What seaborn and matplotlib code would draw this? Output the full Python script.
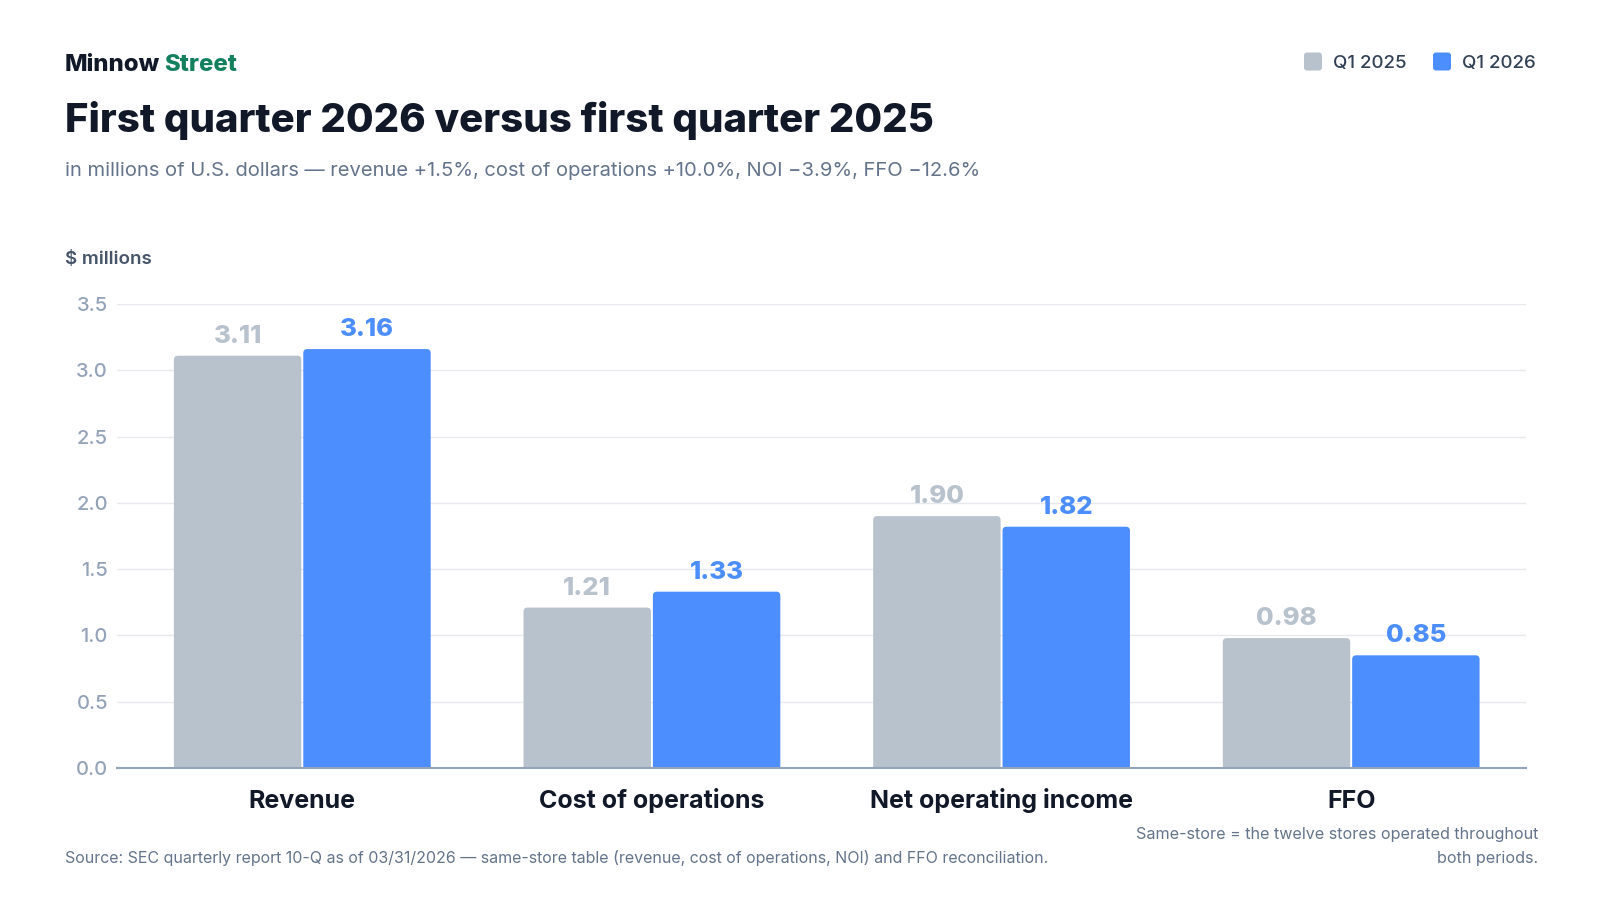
import matplotlib
matplotlib.use("Agg")
import matplotlib.pyplot as plt
import seaborn as sns
import pandas as pd
from matplotlib.patches import FancyBboxPatch

# values, $ millions
metrics = ["Revenue", "Cost of operations", "Net operating income", "FFO"]
q1_2025 = [3.11, 1.21, 1.90, 0.98]
q1_2026 = [3.16, 1.33, 1.82, 0.85]
periods = ["Q1 2025", "Q1 2026"]
y_ticks = [0.0, 0.5, 1.0, 1.5, 2.0, 2.5, 3.0, 3.5]

GREY = "#b8c2cd"
BLUE = "#4d8efe"
INK = "#111827"
GREEN = "#12805c"
MUTED = "#64748b"
TICK = "#94a3b8"

W, H = 1600, 900

def fx(px):
    return px / W

def fy(py):
    return 1 - py / H


sns.set_theme(style="white")
plt.rcParams["font.family"] = ["Inter", "DejaVu Sans"]

df = pd.DataFrame({
    "metric": metrics * 2,
    "value": q1_2025 + q1_2026,
    "period": [periods[0]] * len(metrics) + [periods[1]] * len(metrics),
})

fig = plt.figure(figsize=(16, 9), dpi=100)
ax_w, ax_h = 1409, 464
ax = fig.add_axes([fx(117), 132 / H, fx(ax_w), ax_h / H])

sns.barplot(data=df, x="metric", y="value", hue="period", hue_order=periods,
            palette=[GREY, BLUE], saturation=1, width=0.74, gap=0.015,
            linewidth=0, legend=False, ax=ax)

xlim = (-0.53, 3.5)
ylim = (0, 3.5)
ax.set_xlim(*xlim)
ax.set_ylim(*ylim)

# round the top corners of each bar (bottom ones fall below the clip line)
px_x = ax_w / (xlim[1] - xlim[0])
px_y = ax_h / (ylim[1] - ylim[0])
r = 4 / px_x
for container in ax.containers:
    for bar in container:
        bar.set_visible(False)
        ry = r * px_x / px_y
        p = FancyBboxPatch((bar.get_x(), -ry), bar.get_width(), bar.get_height() + ry,
                           boxstyle=f"round,pad=0,rounding_size={r}",
                           mutation_aspect=px_x / px_y,
                           facecolor=bar.get_facecolor(), edgecolor="none",
                           zorder=2, clip_on=True)
        ax.add_patch(p)

for container, vals, col in zip(ax.containers, [q1_2025, q1_2026], [GREY, BLUE]):
    for bar, v in zip(container, vals):
        ax.annotate(f"{v:.2f}", (bar.get_x() + bar.get_width() / 2, v),
                    xytext=(0, 14), textcoords="offset points",
                    ha="center", va="center", fontsize=18.5, fontweight=800,
                    color=col)

ax.set_yticks(y_ticks)
ax.set_yticklabels([f"{t:.1f}" for t in y_ticks])
ax.set_xlabel("")
ax.set_ylabel("")
ax.yaxis.grid(True, color="#e6e9ee", linewidth=1)
ax.set_axisbelow(True)
for s in ["left", "top", "right"]:
    ax.spines[s].set_visible(False)
ax.spines["bottom"].set_color(TICK)
ax.spines["bottom"].set_linewidth(1.5)
ax.spines["bottom"].set_zorder(3)
ax.tick_params(axis="y", length=0, pad=6.5, labelsize=14.5, labelcolor=TICK)
ax.tick_params(axis="x", length=0, pad=29, labelsize=18, labelcolor=INK)
for lab in ax.get_yticklabels():
    lab.set_fontweight("medium")
for lab in ax.get_xticklabels():
    lab.set_fontweight("bold")
    lab.set_verticalalignment("baseline")

# header
t1 = fig.text(fx(65), fy(71), "Minnow", fontsize=17.2, fontweight=800,
              color=INK, va="baseline")
fig.canvas.draw()
bb = t1.get_window_extent()
fig.text(fx(bb.x1 + 4), fy(71), "Street", fontsize=17.2, fontweight=800,
         color=GREEN, va="baseline")

fig.text(fx(65), fy(132), "First quarter 2026 versus first quarter 2025",
         fontsize=28.9, fontweight=800, color=INK, va="baseline")
fig.text(fx(65), fy(175.5),
         "in millions of U.S. dollars — revenue +1.5%, cost of operations +10.0%, "
         "NOI −3.9%, FFO −12.6%",
         fontsize=14.5, color=MUTED, va="baseline")
fig.text(fx(65), fy(264), "$ millions", fontsize=13.5, fontweight="semibold",
         color="#475569", va="baseline")

# legend, top right
leg_x = [1304, 1433]
for lx, lab, col in zip(leg_x, periods, [GREY, BLUE]):
    fig.patches.append(FancyBboxPatch((fx(lx), fy(70.5)), fx(18), 18 / H,
                                      boxstyle="round,pad=0,rounding_size=0.0018",
                                      mutation_aspect=W / H,
                                      facecolor=col, edgecolor="none",
                                      transform=fig.transFigure, figure=fig))
    fig.text(fx(lx + 29), fy(61.5), lab, fontsize=13.5, fontweight="medium",
             color="#334155", va="center_baseline")

# footer
fig.text(fx(65), fy(863),
         "Source: SEC quarterly report 10-Q as of 03/31/2026 — same-store table "
         "(revenue, cost of operations, NOI) and FFO reconciliation.",
         fontsize=11.5, color=MUTED, va="baseline")
fig.text(fx(1538), fy(839), "Same-store = the twelve stores operated throughout",
         fontsize=11.6, color=MUTED, va="baseline", ha="right")
fig.text(fx(1538), fy(863), "both periods.",
         fontsize=11.6, color=MUTED, va="baseline", ha="right")

fig.savefig("out.png", dpi=100)
